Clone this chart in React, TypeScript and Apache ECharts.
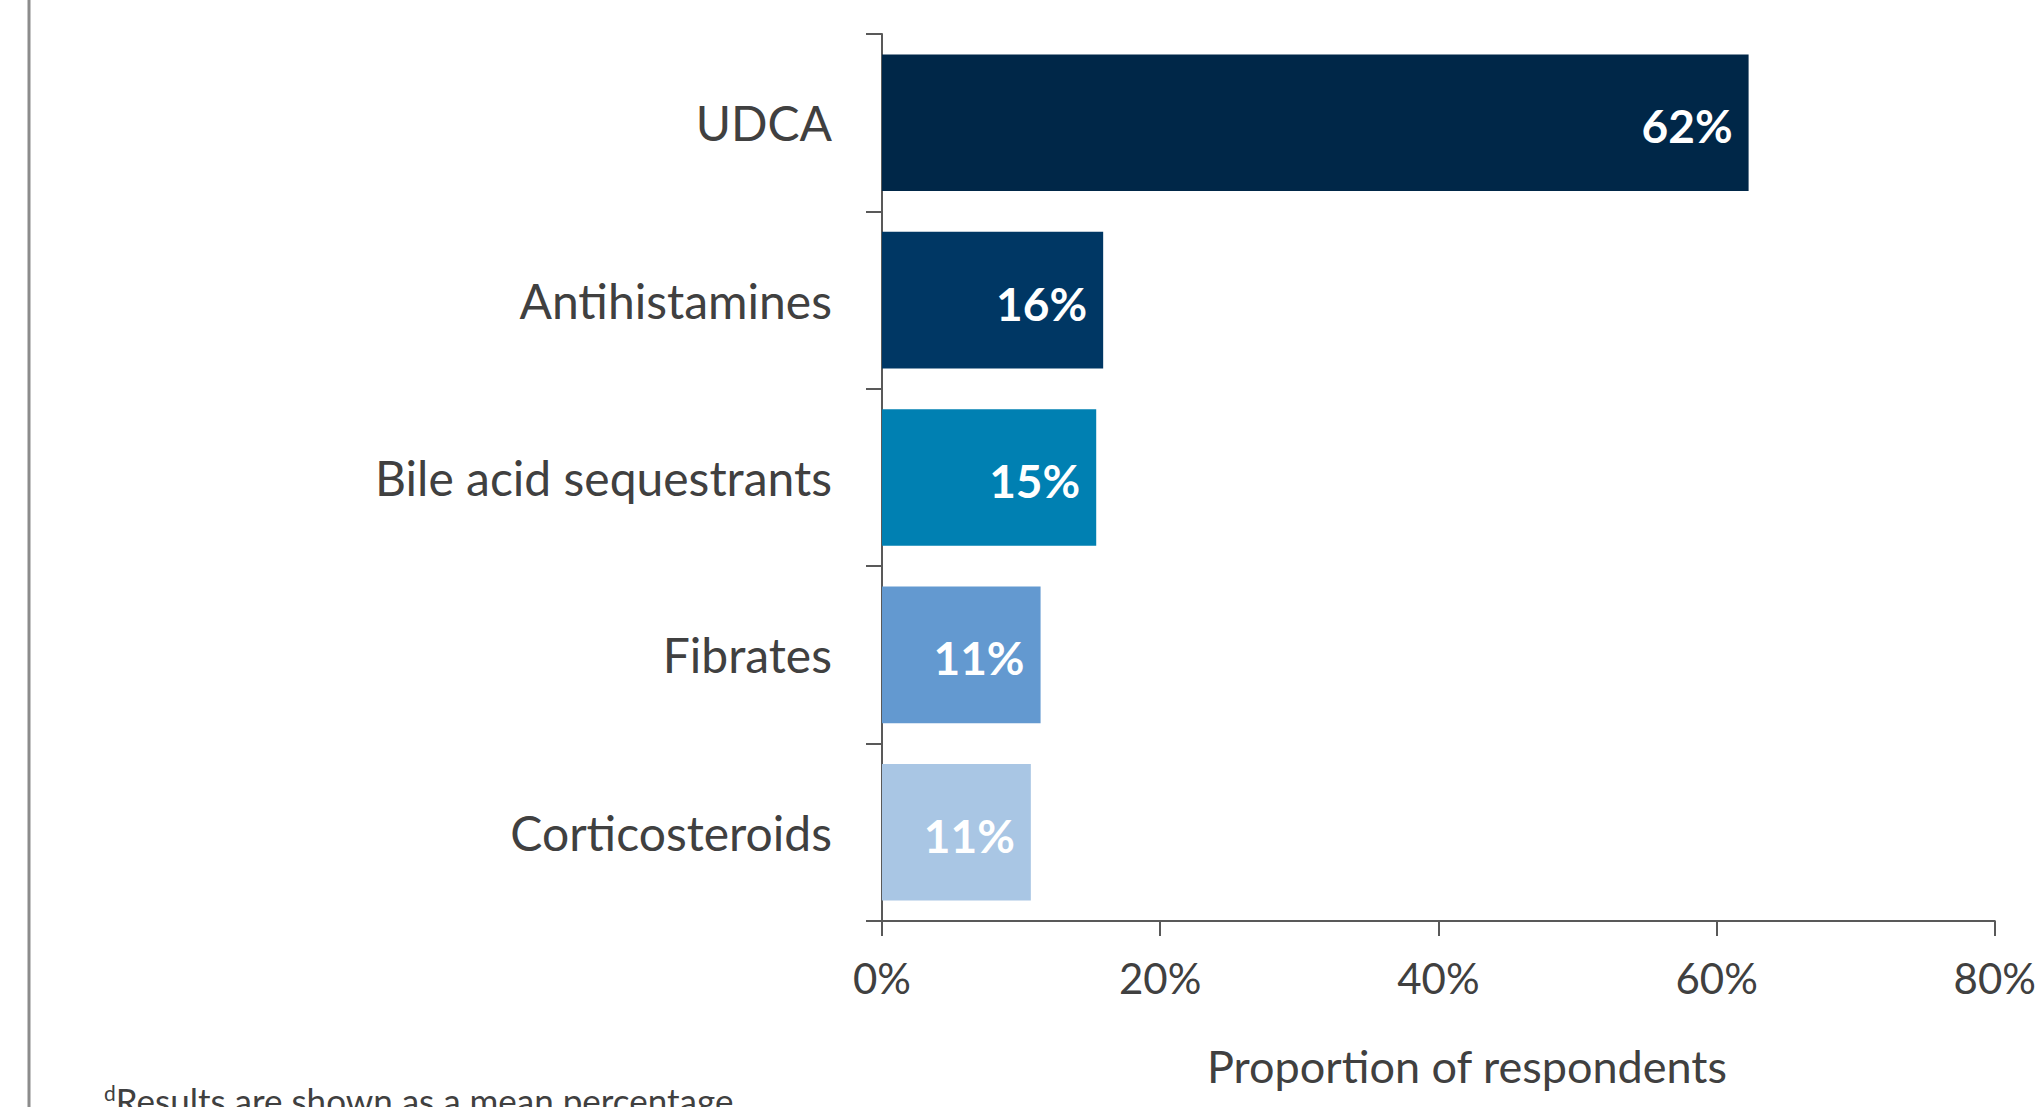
import React, { useEffect, useRef } from "react";
import * as echarts from "echarts";

const categories = ["UDCA", "Antihistamines", "Bile acid sequestrants", "Fibrates", "Corticosteroids"];
const values = [62.3, 15.9, 15.4, 11.4, 10.7];
const valueLabels = ["62%", "16%", "15%", "11%", "11%"];
const barColors = ["#002748", "#003764", "#0080B2", "#6399D0", "#A9C6E4"];
const xTicks = [0, 20, 40, 60, 80];
const axisTitle = "Proportion of respondents";
const footnote = "Results are shown as a mean percentage";

const FONT = "Lato, 'Open Sans', sans-serif";

export default function App() {
  const ref = useRef<HTMLDivElement>(null);
  useEffect(() => {
    if (!ref.current) return;
    const chart = echarts.init(ref.current, undefined, { renderer: "svg" });
    const cats = [...categories].reverse();
    const vals = [...values].reverse();
    const labs = [...valueLabels].reverse();
    const cols = [...barColors].reverse();
    chart.setOption({
      animation: false,
      backgroundColor: "#ffffff",
      grid: { left: 882, right: 36, top: 34, bottom: 186, containLabel: false },
      xAxis: {
        type: "value",
        min: 0,
        max: 80,
        interval: 20,
        axisLine: { show: true, lineStyle: { color: "#595959", width: 2 } },
        axisTick: { show: true, length: 15, inside: false, lineStyle: { color: "#595959", width: 2 } },
        splitLine: { show: false },
        axisLabel: {
          margin: 36,
          fontFamily: FONT,
          fontSize: 42,
          color: "#404040",
          formatter: (v: number) => (xTicks.includes(v) ? v + "%" : ""),
        },
      },
      yAxis: {
        type: "category",
        data: cats,
        axisLine: { show: true, lineStyle: { color: "#595959", width: 2 } },
        axisTick: { show: true, length: 16, alignWithLabel: false, lineStyle: { color: "#595959", width: 2 } },
        axisLabel: {
          margin: 50,
          fontFamily: FONT,
          fontSize: 48,
          color: "#404040",
        },
      },
      series: [
        {
          type: "bar",
          barCategoryGap: "23%",
          data: vals.map((v, i) => ({
            value: v,
            itemStyle: { color: cols[i] },
            label: {
              show: true,
              position: "insideRight",
              distance: 16,
              formatter: labs[i],
              color: "#ffffff",
              fontFamily: FONT,
              fontWeight: "bold",
              fontSize: 46,
              offset: [0, 3],
            },
          })),
        },
      ],
      graphic: [
        {
          type: "line",
          shape: { x1: 29, y1: 0, x2: 29, y2: 1107 },
          style: { stroke: "#8c8c8c", lineWidth: 3 },
        },
        {
          type: "text",
          x: 1467,
          y: 1066,
          style: {
            text: axisTitle,
            font: `45px ${FONT}`,
            fill: "#404040",
            textAlign: "center",
            textVerticalAlign: "middle",
          },
        },
        {
          type: "text",
          x: 104,
          y: 1082,
          style: {
            text: "{s|d}{t|" + footnote + "}",
            fill: "#404040",
            rich: {
              s: { fontSize: 21, fontFamily: FONT, fill: "#404040", verticalAlign: "top", padding: [0, 0, 15, 0] },
              t: { fontSize: 35, fontFamily: FONT, fill: "#404040" },
            },
          },
        },
      ],
    });
    return () => chart.dispose();
  }, []);
  return (
    <div
      ref={ref}
      style={{ position: "absolute", left: 0, top: 0, width: 2039, height: 1107 }}
    />
  );
}
